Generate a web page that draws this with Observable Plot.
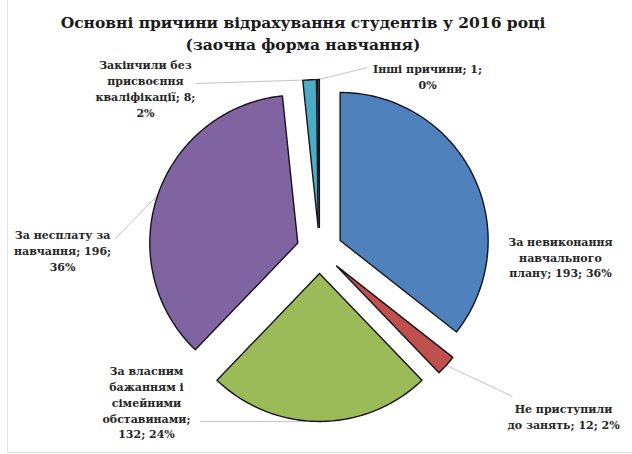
<!DOCTYPE html>
<html><head><meta charset="utf-8">
<script src="https://cdn.jsdelivr.net/npm/d3@7"></script>
<script src="https://cdn.jsdelivr.net/npm/@observablehq/plot@0.6"></script>
<style>
body{margin:0;background:#fff;font-family:"DejaVu Serif",serif;}
#wrap{position:relative;width:632px;height:454px;overflow:hidden;background:#fff;}
#frame{position:absolute;left:7px;top:-2px;width:640px;height:455px;border:1px solid #e2e2e2;box-sizing:border-box;}
#title{position:absolute;left:0;top:12px;width:606px;text-align:center;font-weight:bold;font-size:15.5px;line-height:22px;color:#1a1a1a;}
#chart{position:absolute;left:0;top:58px;}
</style></head>
<body>
<div id="wrap"><div id="frame"></div>
<div id="title">Основні причини відрахування студентів у 2016 році<br>(заочна форма навчання)</div>
<div id="chart"></div></div>
<script>
// ---- data ----
const categories = [
  "За невиконання\nнавчального\nплану",
  "Не приступили\nдо занять",
  "За власним\nбажанням і\nсімейними\nобставинами",
  "За несплату за\nнавчання",
  "Закінчили без\nприсвоєння\nкваліфікації",
  "Інші причини"
];
const values = [193, 12, 132, 196, 8, 1];
const percents = ["36%", "2%", "24%", "36%", "2%", "0%"];
const colors = ["#4f81bd", "#c0504d", "#9bbb59", "#8064a2", "#4bacc6", "#f79646"];

// ---- layout (unit = pie radius, centre at 0,0) ----
const sepValue = [" ", " ", "\n", " ", " ", " "];
const sepPct   = [" ", " ", " ", "\n", "\n", "\n"];
const labelPos = [[1.628,-0.04],[1.649,-1.115],[-1.169,-1.02],[-1.736,0.007],[-1.176,1.10],[0.73,1.18]];
const leaderEnd = [null,[1.304,-0.986],[-0.804,-1.155],[-1.378,0.081],[-0.838,1.128],[0.324,1.236]];
const R = 1, E = 0.155;

const arcs = d3.pie().sort(null).value(d => d)(values);
const polys = [], leaders = [], labels = [];
arcs.forEach((a, i) => {
  const mid = (a.startAngle + a.endAngle) / 2;
  const ox = E * Math.sin(mid), oy = E * Math.cos(mid);
  const n = Math.max(2, Math.ceil((a.endAngle - a.startAngle) / 0.02));
  polys.push({k: i, x: ox, y: oy, c: categories[i]});
  for (let j = 0; j <= n; j++) {
    const t = a.startAngle + (a.endAngle - a.startAngle) * j / n;
    polys.push({k: i, x: ox + R * Math.sin(t), y: oy + R * Math.cos(t), c: categories[i]});
  }
  polys.push({k: i, x: ox, y: oy, c: categories[i]});
  if (leaderEnd[i]) {
    leaders.push({x1: ox + R * Math.sin(mid), y1: oy + R * Math.cos(mid), x2: leaderEnd[i][0], y2: leaderEnd[i][1]});
  }
  labels.push({x: labelPos[i][0], y: labelPos[i][1],
    text: categories[i] + ";" + sepValue[i] + values[i] + ";" + sepPct[i] + percents[i]});
});

const W = 632, H = 396, cx = 319, cy = 192, rpx = 148;
const chart = Plot.plot({
  width: W, height: H,
  marginLeft: 0, marginRight: 0, marginTop: 0, marginBottom: 0,
  x: {domain: [-cx / rpx, (W - cx) / rpx], axis: null},
  y: {domain: [-(H - cy) / rpx, cy / rpx], axis: null},
  color: {type: "ordinal", domain: categories, range: colors},
  style: {background: "transparent", overflow: "visible"},
  marks: [
    Plot.link(leaders, {x1: "x1", y1: "y1", x2: "x2", y2: "y2", stroke: "#c4c4c4", strokeWidth: 1}),
    Plot.line(polys, {x: "x", y: "y", z: "k", fill: "c", stroke: "#14141c", strokeWidth: 1.4, curve: "linear"}),
    Plot.text(labels, {x: "x", y: "y", text: "text", fontSize: 11, fontWeight: "bold",
      fontFamily: "DejaVu Serif", lineHeight: 1.45, textAnchor: "middle", fill: "#262626"})
  ]
});
document.getElementById("chart").appendChild(chart);
</script>
</body></html>
